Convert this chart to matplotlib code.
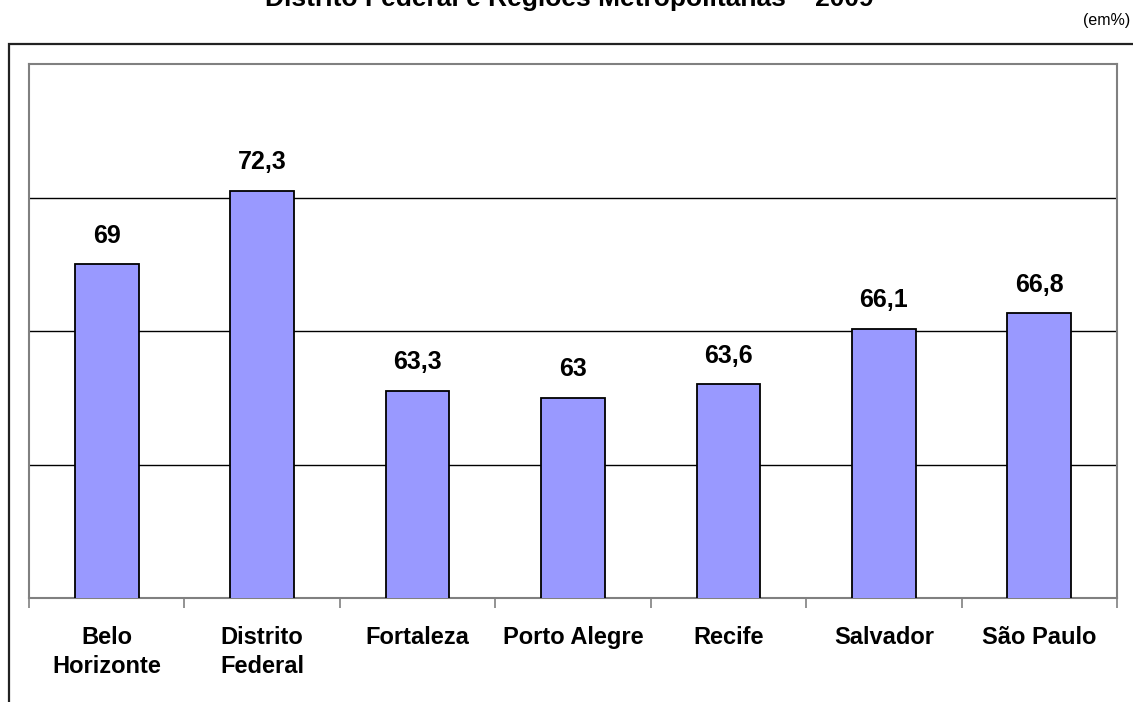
import numpy as np
import matplotlib
matplotlib.use('Agg')
import matplotlib.pyplot as plt
from matplotlib.patches import Rectangle

# dados (em%)
regioes = ['Belo\nHorizonte', 'Distrito\nFederal', 'Fortaleza', 'Porto Alegre',
           'Recife', 'Salvador', 'São Paulo']
valores = [69, 72.3, 63.3, 63, 63.6, 66.1, 66.8]
rotulos = ['69', '72,3', '63,3', '63', '63,6', '66,1', '66,8']
y_min, y_max, y_passo = 54, 78, 6

plt.rcParams['font.family'] = ['Liberation Sans', 'DejaVu Sans']

W, H = 1133, 702
fig = plt.figure(figsize=(W / 100, H / 100), dpi=100)

# moldura externa do grafico (sai pela borda direita/inferior)
fig.patches.append(Rectangle((9 / W, -0.1), 1.2, (H - 44) / H + 0.1,
                             transform=fig.transFigure, fill=False,
                             edgecolor='#222222', linewidth=1.6))

ax = fig.add_axes([29 / W, 1 - 598 / H, (1117 - 29) / W, (598 - 64) / H])
x = np.arange(len(valores))
ax.bar(x, valores, width=0.41, bottom=0, color='#9999FF', edgecolor='black',
       linewidth=1.3, zorder=3)
ax.set_ylim(y_min, y_max)
ax.set_xlim(-0.5, len(valores) - 0.5)

for yy in range(y_min + y_passo, y_max, y_passo):
    ax.axhline(yy, color='black', linewidth=1.0, zorder=1)

for xi, v, r in zip(x, valores, rotulos):
    ax.annotate(r, (xi, v), xytext=(0, 12), textcoords='offset points',
                ha='center', va='bottom', fontsize=18, fontweight='bold')

ax.set_yticks([])
ax.set_xticks(x)
ax.set_xticklabels(regioes, fontsize=17, fontweight='bold', linespacing=1.35)
ax.tick_params(axis='x', which='major', length=0, pad=20)
ax.set_xticks(np.arange(len(valores) + 1) - 0.5, minor=True)
ax.tick_params(axis='x', which='minor', length=7, color='#808080', width=1.2)
for s in ax.spines.values():
    s.set_color('#808080')
    s.set_linewidth(1.5)

fig.text(569 / W, 1 - 6 / H, 'Distrito Federal e Regiões Metropolitanas – 2009',
         ha='center', va='baseline', fontsize=19, fontweight='bold')
fig.text(1130 / W, 1 - 20 / H, '(em%)', ha='right', va='center', fontsize=11.5)

fig.savefig('out.png', dpi=100)
